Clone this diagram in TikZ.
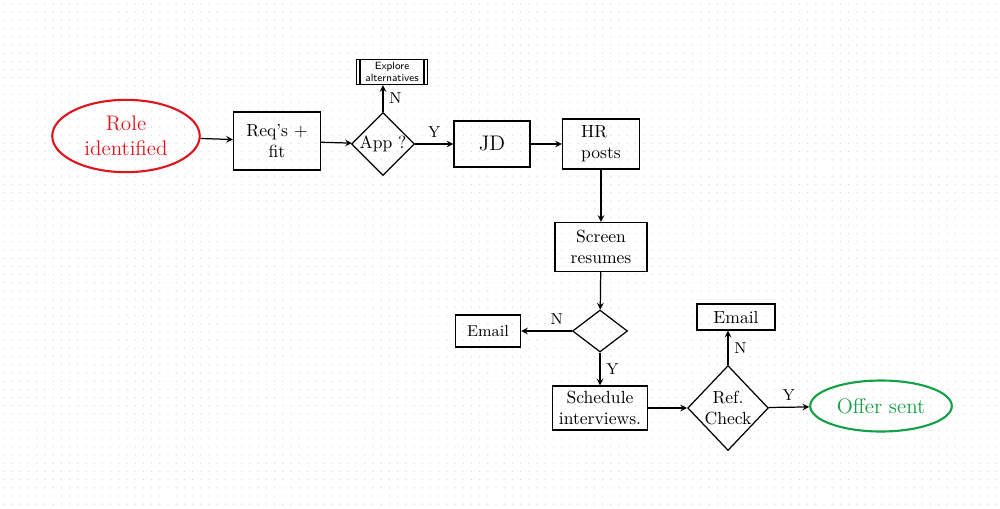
\documentclass[tikz,border=0pt]{standalone}
\usetikzlibrary{shapes.geometric}
\definecolor{inkred}{RGB}{225,20,30}
\definecolor{inkgreen}{RGB}{20,160,70}
\begin{document}
\begin{tikzpicture}[x=0.02cm, y=-0.02cm, line width=0.7pt, >=stealth]
	\tikzstyle{block} = [rectangle,draw,align=center,inner sep=2pt]
	\tikzstyle{decision} = [diamond,draw,align=center,inner sep=0pt]
	\tikzstyle{terminal} = [ellipse,draw,line width=1.2pt,align=center,font=\large]
	\tikzstyle{lbl} = [font=\small]
	% canvas and dot grid
	\useasboundingbox[fill=white] (0,0) rectangle (1000,508);
	\foreach \i in {0,...,121} {
		\foreach \j in {0,...,61} {
			\fill[gray!35] (4+\i*8.2,4+\j*8.2) circle (0.35pt);
		}
	}
	\node[terminal,draw=inkred,text=inkred,minimum width=2.95cm,minimum height=1.12cm](role)at(126,136){Role\\identified};
	\node[block,minimum width=1.74cm,minimum height=1.16cm](req)at(277,141){Req's + \\fit};
	\node[decision,minimum width=1.0cm,minimum height=1.12cm](app)at(383,144){App ?};
	\node[block,font=\sffamily\fontsize{6}{7}\selectfont,inner xsep=5pt,inner ysep=1.5pt,minimum width=1.28cm,minimum height=0.5cm](explore)at(392,72){Explore\\alternatives};
	\draw (explore.north west)++(4,0) -- ++(0,25);
	\draw (explore.north east)++(-4,0) -- ++(0,25);
	\node[block,font=\large,minimum width=1.52cm,minimum height=0.92cm](jd)at(492,144){JD};
	\node[block,align=left,minimum width=1.54cm,minimum height=1.0cm](hr)at(601,144){HR\\posts};
	\node[block,minimum width=1.84cm,minimum height=0.98cm](screen)at(601,247){Screen\\resumes};
	\node[decision,minimum width=1.1cm,minimum height=0.84cm](dec)at(600,331){};
	\node[block,font=\small,minimum width=1.3cm,minimum height=0.64cm](email1)at(488,331){Email};
	\node[block,minimum width=1.9cm,minimum height=0.88cm](sched)at(600,408){Schedule\\interviews.};
	\node[decision,minimum width=1.5cm,minimum height=1.7cm](ref)at(728,408){Ref.\\Check};
	\node[block,minimum width=1.56cm,minimum height=0.52cm](email2)at(736,317){Email};
	\node[terminal,draw=inkgreen,text=inkgreen,minimum width=2.66cm,minimum height=1.02cm](offer)at(881,406){Offer sent};
	\path[->] (role) edge (req)
	(req) edge (app)
	(app) edge node[lbl,above]{Y} (jd)
	(app.north) edge node[lbl,right]{N} (app.north |- explore.south)
	(jd) edge (hr);
	\path[->] (hr) edge (screen)
	(screen) edge (dec)
	(dec) edge node[lbl,above,pos=0.3]{N} (email1)
	(dec) edge node[lbl,right]{Y} (sched);
	\path[->] (sched) edge (ref)
	(ref.north) edge node[lbl,right]{N} (ref.north |- email2.south)
	(ref) edge node[lbl,above]{Y} (offer);
\end{tikzpicture}
\end{document}
